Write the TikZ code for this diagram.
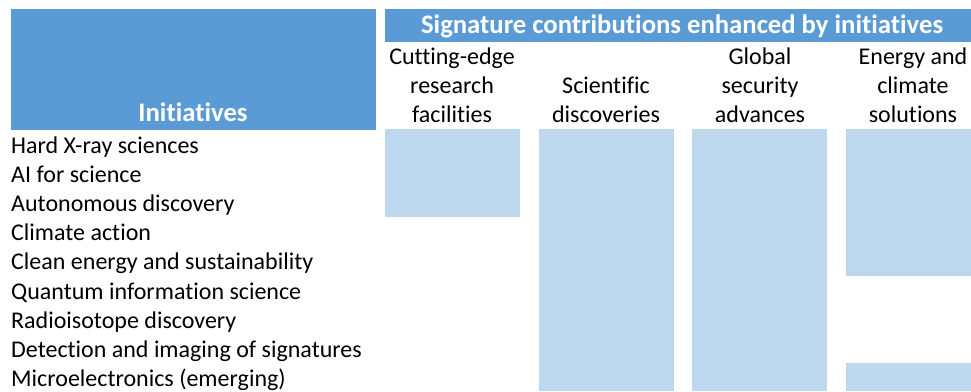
\documentclass[tikz,border=0pt]{standalone}
\usepackage{fontspec}
\setmainfont[Ligatures = NoCommon]{Carlito}
\definecolor{headblue}{HTML}{5B9BD5}
\definecolor{barblue}{HTML}{BDD7EE}
\tikzset{
	rowlabel/.style = {anchor = base west, inner sep = 0pt, font = \fontsize{24}{29}\selectfont},
	collabel/.style = {anchor = base, inner sep = 0pt, font = \fontsize{24}{29}\selectfont},
	headlabel/.style = {anchor = base, inner sep = 0pt, text = white, font = \fontsize{26.7}{29}\selectfont\bfseries}
}
\begin{document}
\begin{tikzpicture}[x = 1pt, y = -1pt]

\useasboundingbox (0, 0) rectangle (971, 391);

% header bands
\fill[headblue] (11, 9) rectangle (376, 130);
\fill[headblue] (385, 9) rectangle (971, 42);
\node[headlabel] (init) at (193, 121) {Initiatives};
\node[headlabel] (sig) at (682, 33) {Signature contributions enhanced by initiatives};

% bars
\fill[barblue] (385, 129) rectangle (520, 217);
\fill[barblue] (539, 129) rectangle (674, 391);
\fill[barblue] (692, 129) rectangle (827, 391);
\fill[barblue] (846, 129) rectangle (971, 276);
\fill[barblue] (846, 363) rectangle (971, 391);

% column titles
\foreach \x/\a/\b/\c [count = \i] in {
	452/Cutting-edge/research/facilities,
	606//Scientific/discoveries,
	760/Global/security/advances,
	913/Energy and/climate/solutions}
{
	\node[collabel] (col\i-1) at (\x, 64) {\a};
	\node[collabel] (col\i-2) at (\x, 93.5) {\b};
	\node[collabel] (col\i-3) at (\x, 122) {\c};
}

% initiatives
\foreach \t [count = \i] in {
	Hard X-ray sciences,
	AI for science,
	Autonomous discovery,
	Climate action,
	Clean energy and sustainability,
	Quantum information science,
	Radioisotope discovery,
	Detection and imaging of signatures,
	Microelectronics (emerging)}
	\node[rowlabel] (row\i) at (11, 123.8 + 29.2*\i) {\t};

\end{tikzpicture}
\end{document}
